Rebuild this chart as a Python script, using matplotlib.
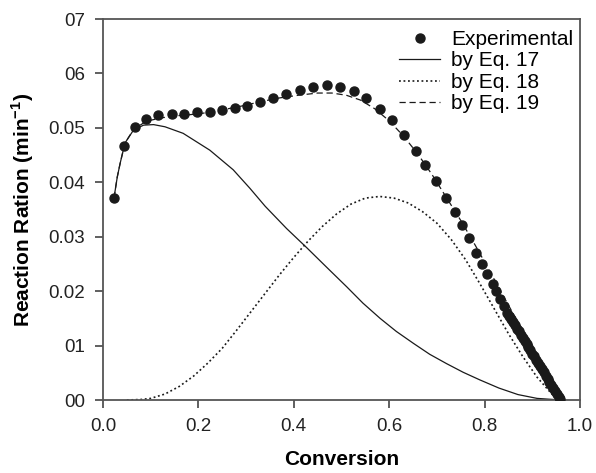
import matplotlib
matplotlib.use('Agg')
import matplotlib.pyplot as plt

plt.rcParams['font.family'] = ['Liberation Sans', 'DejaVu Sans']
plt.rcParams['mathtext.fontset'] = 'custom'
plt.rcParams['mathtext.rm'] = 'Liberation Sans'
plt.rcParams['mathtext.bf'] = 'Liberation Sans:bold'

# experimental points
exp_x = [0.023, 0.044, 0.068, 0.091, 0.116, 0.145, 0.170, 0.198, 0.224, 0.250,
         0.277, 0.302, 0.330, 0.357, 0.384, 0.413, 0.441, 0.469, 0.496, 0.526,
         0.552, 0.580, 0.605, 0.632, 0.656, 0.676, 0.698, 0.719, 0.737, 0.753,
         0.767, 0.782, 0.794, 0.806, 0.817, 0.825, 0.833, 0.840, 0.848, 0.852,
         0.856, 0.860, 0.864, 0.868, 0.872, 0.876, 0.880, 0.884, 0.888, 0.892,
         0.896, 0.900, 0.904, 0.908, 0.912, 0.916, 0.920, 0.924, 0.928, 0.932,
         0.936, 0.940, 0.944, 0.948, 0.952, 0.956, 0.958]
exp_y = [0.0371, 0.0466, 0.0501, 0.0516, 0.0523, 0.0526, 0.0526, 0.0529, 0.0529, 0.0532,
         0.0537, 0.0540, 0.0548, 0.0555, 0.0562, 0.0570, 0.0576, 0.0579, 0.0575, 0.0567,
         0.0555, 0.0535, 0.0515, 0.0487, 0.0458, 0.0431, 0.0402, 0.0372, 0.0346, 0.0321,
         0.0297, 0.0271, 0.0250, 0.0232, 0.0213, 0.0200, 0.0185, 0.0172, 0.0160, 0.0154,
         0.0149, 0.0143, 0.0137, 0.0131, 0.0126, 0.0120, 0.0114, 0.0108, 0.0103, 0.0097,
         0.0091, 0.0085, 0.0080, 0.0074, 0.0068, 0.0062, 0.0057, 0.0051, 0.0045, 0.0039,
         0.0034, 0.0028, 0.0022, 0.0016, 0.0011, 0.0005, 0.0002]

# Eq. 17 (solid)
eq17_x = [0.023, 0.030, 0.036, 0.046, 0.064, 0.085, 0.106, 0.130, 0.168, 0.224, 0.273,
          0.308, 0.340, 0.385, 0.427, 0.470, 0.511, 0.545, 0.581, 0.615, 0.651, 0.685,
          0.720, 0.755, 0.790, 0.830, 0.870, 0.910, 0.960]
eq17_y = [0.0371, 0.0410, 0.0435, 0.0472, 0.0496, 0.0505, 0.0506, 0.0502, 0.0490, 0.0459,
          0.0423, 0.0389, 0.0356, 0.0315, 0.0280, 0.0243, 0.0208, 0.0178, 0.0150, 0.0126,
          0.0104, 0.0084, 0.0067, 0.0051, 0.0037, 0.0022, 0.0010, 0.0003, 0.0]

# Eq. 18 (dotted)
eq18_x = [0.05, 0.08, 0.10, 0.13, 0.16, 0.19, 0.22, 0.25, 0.28, 0.31, 0.34, 0.37, 0.40,
          0.43, 0.46, 0.49, 0.52, 0.55, 0.58, 0.61, 0.64, 0.67, 0.70, 0.73, 0.76, 0.79,
          0.82, 0.85, 0.88, 0.91, 0.94, 0.96]
eq18_y = [0.0, 0.0001, 0.0003, 0.0011, 0.0025, 0.0044, 0.0068, 0.0095, 0.0128, 0.0162,
          0.0196, 0.0230, 0.0262, 0.0292, 0.0319, 0.0342, 0.0360, 0.0371, 0.0374, 0.0371,
          0.0362, 0.0346, 0.0325, 0.0295, 0.0258, 0.0214, 0.0168, 0.0122, 0.0080, 0.0042,
          0.0012, 0.0]

# Eq. 19 (dashed)
eq19_x = [0.023, 0.030, 0.036, 0.046, 0.064, 0.085, 0.10, 0.12, 0.15, 0.18, 0.21, 0.25,
          0.29, 0.33, 0.37, 0.41, 0.45, 0.48, 0.51, 0.54, 0.57, 0.60, 0.63, 0.66, 0.69,
          0.72, 0.75, 0.78, 0.81, 0.84, 0.87, 0.90, 0.93, 0.96]
eq19_y = [0.0371, 0.0410, 0.0435, 0.0472, 0.0497, 0.0509, 0.0514, 0.0518, 0.0522, 0.0524,
          0.0527, 0.0533, 0.0540, 0.0548, 0.0555, 0.0560, 0.0564, 0.0564, 0.0560, 0.0551,
          0.0535, 0.0513, 0.0485, 0.0452, 0.0414, 0.0372, 0.0330, 0.0285, 0.0238, 0.0190,
          0.0143, 0.0097, 0.0050, 0.0]

x_ticks = [0.0, 0.2, 0.4, 0.6, 0.8, 1.0]
x_ticklabels = ['0.0', '0.2', '0.4', '0.6', '0.8', '1.0']
y_ticks = [0.0, 0.01, 0.02, 0.03, 0.04, 0.05, 0.06, 0.07]
y_ticklabels = ['00', '01', '0.02', '0.03', '0.04', '0.05', '06', '07']

fig = plt.figure(figsize=(5.96, 4.73), dpi=100)
ax = fig.add_axes([0.1728, 0.1543, 0.8003, 0.8055])

ink = '#1a1a1a'
ax.plot(eq17_x, eq17_y, '-', color=ink, lw=0.9, label='by Eq. 17')
ax.plot(eq18_x, eq18_y, color=ink, lw=1.2, dashes=(1.1, 1.6), label='by Eq. 18')
ax.plot(eq19_x, eq19_y, color=ink, lw=0.9, dashes=(5, 3), label='by Eq. 19')
ax.plot(exp_x, exp_y, 'o', color=ink, ms=6.5, mec=ink, zorder=5, label='Experimental')

ax.set_xlim(0, 1.0)
ax.set_ylim(0, 0.07)
ax.set_xticks(x_ticks)
ax.set_xticklabels(x_ticklabels)
ax.set_yticks(y_ticks)
ax.set_yticklabels(y_ticklabels)
ax.tick_params(direction='out', length=6, width=1.2, color='#444444',
               labelsize=13.5, labelcolor='#222222')
ax.tick_params(axis='x', pad=7)
ax.tick_params(axis='y', pad=7)
for s in ax.spines.values():
    s.set_linewidth(1.3)
    s.set_color('#555555')

ax.set_xlabel('Conversion', fontsize=15, fontweight='bold', labelpad=11)
ax.set_ylabel(r'Reaction Ration (min$^{\mathbf{-1}}$)', fontsize=15,
              fontweight='bold', labelpad=9)

h, l = ax.get_legend_handles_labels()
order = [3, 0, 1, 2]
ax.legend([h[i] for i in order], [l[i] for i in order], loc='upper right',
          bbox_to_anchor=(1.0, 0.99), frameon=False, fontsize=15, numpoints=1,
          handlelength=2.0, handletextpad=0.5, labelspacing=0.12,
          borderaxespad=0.0, borderpad=0.34)

fig.savefig('out.png', dpi=100)
